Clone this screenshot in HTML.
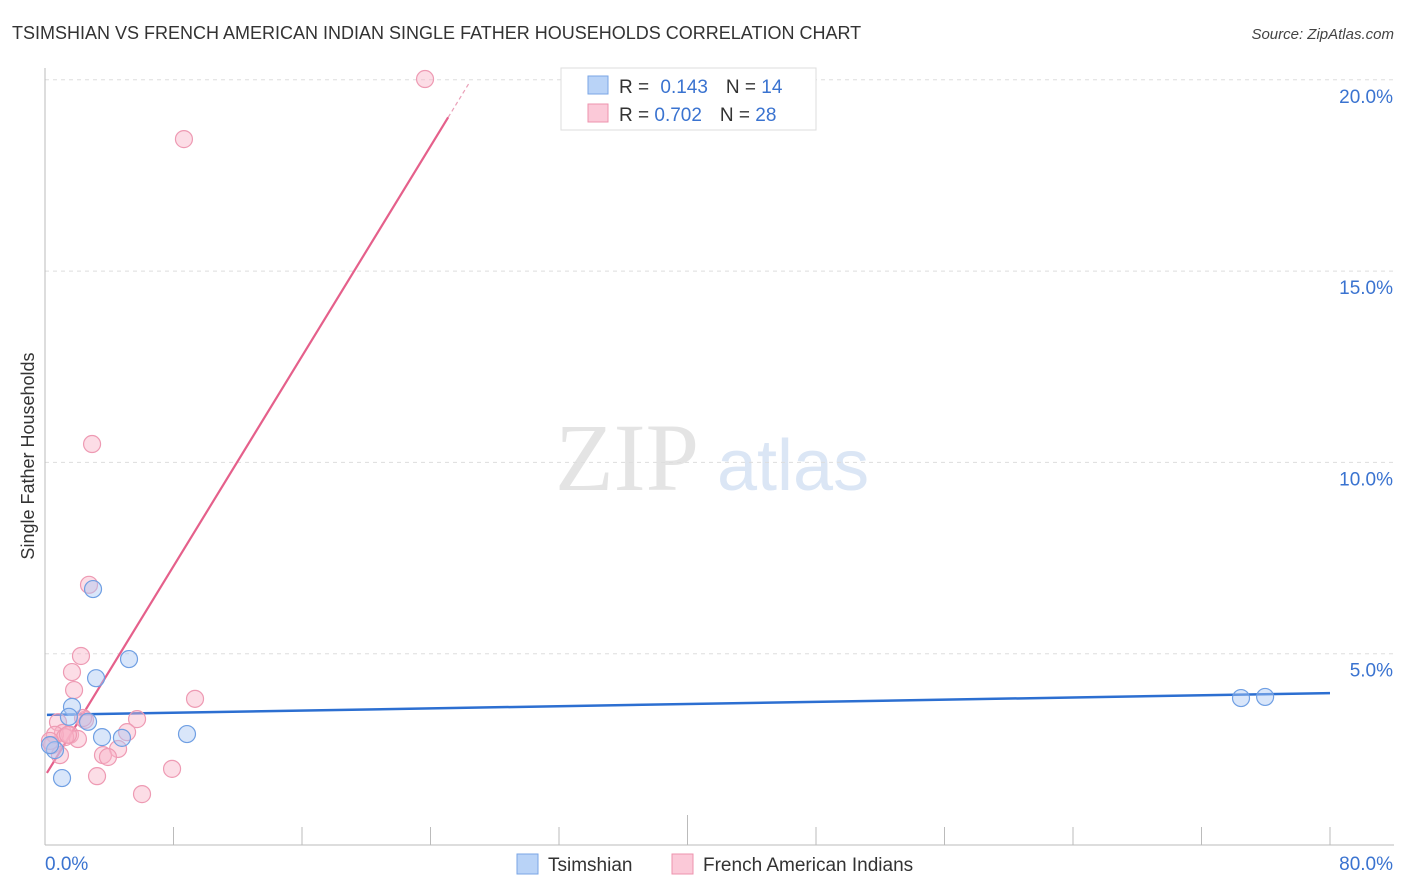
<!DOCTYPE html>
<html><head><meta charset="utf-8"><style>
body{margin:0;background:#fff;font-family:"Liberation Sans",sans-serif}
svg{display:block}
</style></head><body>
<svg id="chart" width="1406" height="892" xmlns="http://www.w3.org/2000/svg">
<text x="12" y="39" font-size="18" fill="#333">TSIMSHIAN VS FRENCH AMERICAN INDIAN SINGLE FATHER HOUSEHOLDS CORRELATION CHART</text>
<text x="1394" y="39" font-size="15" font-style="italic" fill="#444" text-anchor="end">Source: ZipAtlas.com</text>
<g>
<text x="555" y="490" font-family="Liberation Serif,serif" font-size="96" fill="#e4e4e4">ZIP</text>
<text x="717" y="490" font-size="72" fill="#dbe6f5">atlas</text>
</g>
<g id="grid"></g>
<g id="axes"></g>
<g id="lines"></g>
<g id="pts"></g>
<text x="34" y="456" font-size="18" fill="#333" text-anchor="middle" transform="rotate(-90 34 456)">Single Father Households</text>
<g>
<rect x="561" y="68" width="255" height="62" fill="#fff" stroke="#ddd"/>
<rect x="588" y="76" width="20" height="18" fill="#b9d3f7" stroke="#7aa6e6"/>
<rect x="588" y="104" width="20" height="18" fill="#fbc9d8" stroke="#ee93ae"/>
<text x="619" y="93" font-size="19" fill="#333">R = <tspan fill="#3a73d0" dx="6">0.143</tspan><tspan fill="#333" dx="18">N = </tspan><tspan fill="#3a73d0">14</tspan></text>
<text x="619" y="121" font-size="19" fill="#333">R = <tspan fill="#3a73d0">0.702</tspan><tspan fill="#333" dx="18">N = </tspan><tspan fill="#3a73d0">28</tspan></text>
</g>
<g>
<rect x="517" y="854" width="21" height="20" fill="#b9d3f7" stroke="#7aa6e6"/>
<text x="548" y="871" font-size="19" fill="#333">Tsimshian</text>
<rect x="672" y="854" width="21" height="20" fill="#fbc9d8" stroke="#ee93ae"/>
<text x="703" y="871" font-size="19" fill="#333">French American Indians</text>
</g>
</svg>
<script>
const yTicks=[5,10,15,20];
const yTickLabels=["5.0%","10.0%","15.0%","20.0%"];
const blueX=[2.99,5.23,3.18,1.68,1.49,2.68,3.55,4.79,8.84,0.62,1.06,74.46,75.96,0.31];
const blueY=[6.69,4.86,4.36,3.61,3.35,3.22,2.82,2.80,2.90,2.48,1.75,3.84,3.87,2.61];
const pinkX=[23.66,8.65,2.93,2.74,2.24,1.68,1.81,9.34,5.73,0.81,2.49,5.11,1.12,1.56,2.05,0.62,1.25,4.55,3.61,3.92,0.44,0.93,3.24,7.91,6.04,0.31,1.43,2.37];
const pinkY=[20.02,18.45,10.48,6.80,4.94,4.52,4.05,3.82,3.29,3.21,3.27,2.95,2.93,2.88,2.77,2.88,2.82,2.51,2.35,2.30,2.61,2.35,1.80,1.99,1.33,2.72,2.88,3.32];
const blueLine=[3.40,3.97];   // y at x=0.12 and x=80
const pinkLine=[1.80,0.686];  // intercept, slope
const NS="http://www.w3.org/2000/svg";
const sx=v=>45+v*1285/80, sy=v=>845-v*38.26;
function mk(tag,attrs,parent){const e=document.createElementNS(NS,tag);for(const k in attrs)e.setAttribute(k,attrs[k]);parent.appendChild(e);return e;}
const grid=document.getElementById('grid'),axes=document.getElementById('axes');
yTicks.forEach((t,i)=>{
 const g=mk('line',{x1:45,x2:1394,y1:sy(t),y2:sy(t),stroke:'#ddd','stroke-dasharray':'4,4'},grid);
 
 
 const l=mk('text',{x:1393,y:sy(t)+23,'font-size':19,fill:'#3a73d0','text-anchor':'end'},axes);
 l.textContent=yTickLabels[i];
 
 
});
mk('line',{x1:45,x2:45,y1:68,y2:845,stroke:'#bbb'},axes);
mk('line',{x1:45,x2:1394,y1:845,y2:845,stroke:'#bbb'},axes);
for(let i=0;i<=10;i++){const x=45+i*128.5;mk('line',{x1:x,x2:x,y1:i==5?815:827,y2:845,stroke:'#bbb'},axes);}
const x0=mk('text',{x:45,y:870,'font-size':19,fill:'#3a73d0'},axes);x0.textContent='0.0%';


const x1=mk('text',{x:1393,y:870,'font-size':19,fill:'#3a73d0','text-anchor':'end'},axes);x1.textContent='80.0%';


const pts=document.getElementById('pts');
pinkX.forEach((x,i)=>{const c=mk('circle',{cx:sx(x),cy:sy(pinkY[i]),r:8.5,fill:'rgba(248,180,200,0.45)',stroke:'#ee9ab3','stroke-width':1.2},pts);
 
 });
blueX.forEach((x,i)=>{const c=mk('circle',{cx:sx(x),cy:sy(blueY[i]),r:8.5,fill:'rgba(170,200,245,0.45)',stroke:'#6f9fe3','stroke-width':1.2},pts);
 
 });
const lines=document.getElementById('lines');
const bl=mk('line',{x1:sx(0.12),y1:sy(blueLine[0]),x2:sx(80),y2:sy(blueLine[1]),stroke:'#2c6fd1','stroke-width':2.5},lines);


const pf=x=>pinkLine[0]+pinkLine[1]*x;
const pl=mk('line',{x1:sx(0.12),y1:sy(pf(0.12)),x2:sx(25.1),y2:sy(pf(25.1)),stroke:'#e5608b','stroke-width':2.2},lines);


const pd=mk('line',{x1:sx(25.1),y1:sy(pf(25.1)),x2:sx(26.4),y2:sy(pf(26.4)),stroke:'#eaa0b8','stroke-width':1.2,'stroke-dasharray':'4,3'},lines);


</script>
</body></html>
